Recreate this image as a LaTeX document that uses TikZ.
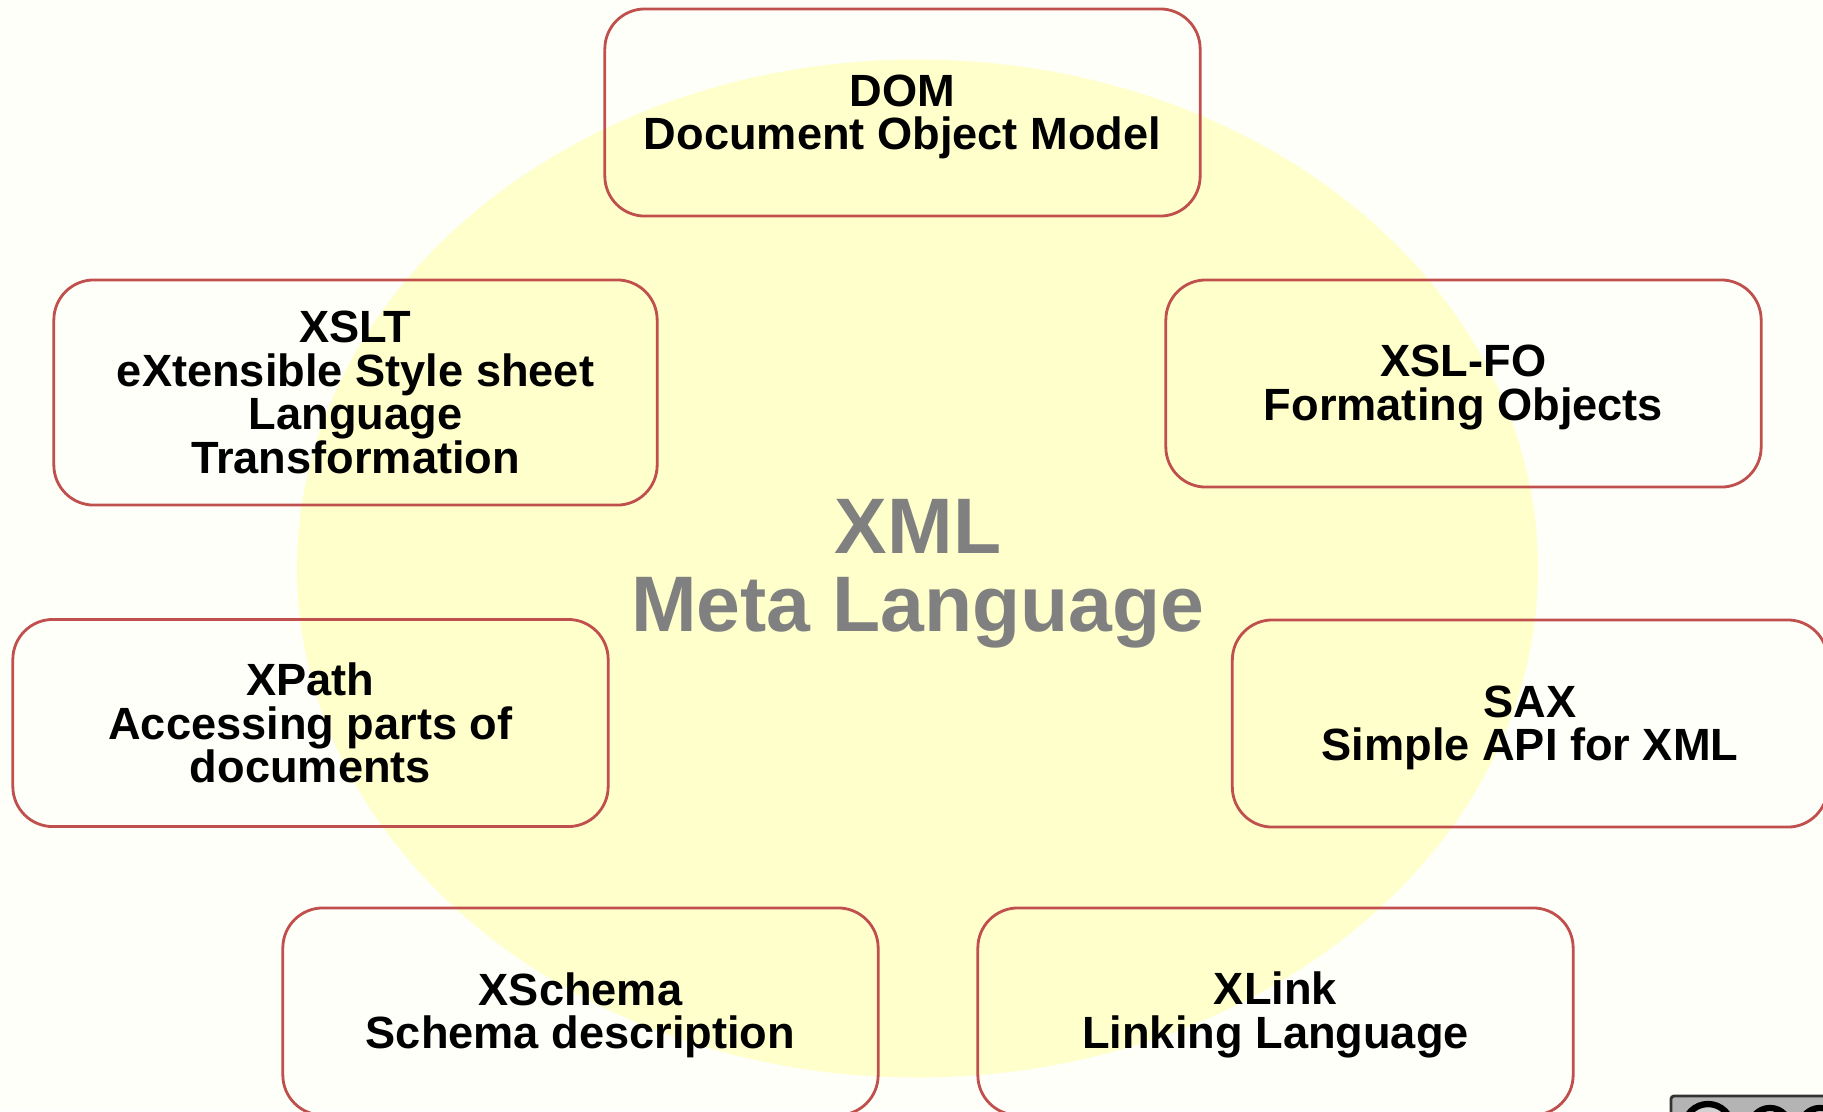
\documentclass[tikz,border=0pt]{standalone}
\usepackage{fontspec}
\setmainfont{Liberation Sans}
\definecolor{pagebg}{HTML}{FFFFFA}
\definecolor{discfill}{HTML}{FFFFCC}
\definecolor{boxline}{HTML}{C0504D}
\definecolor{titlegray}{HTML}{808080}
\definecolor{badgegray}{HTML}{B4B4B4}
\newcommand{\lowline}{\rule{0pt}{0.40cm}}
\tikzset{
  techbox/.style={draw=boxline,line width=0.8pt,rounded corners=0.4cm,align=center,
    minimum width=5.95cm,minimum height=2.07cm,inner sep=0pt,
    font=\fontsize{12.85}{12.4}\selectfont\bfseries},
  titletext/.style={align=center,text=titlegray,inner sep=0pt,
    font=\fontsize{22.4}{22.2}\selectfont\bfseries},
}
\begin{document}
\begin{tikzpicture}[x=0.01cm,y=-0.01cm]

\useasboundingbox (0,0) rectangle (1823,1111);
\clip (0,0) rectangle (1823,1111);
\fill[pagebg] (0,0) rectangle (1823,1111);

% -- disc
\fill[discfill] (917.5,568.5) ellipse (620.5 and 509);

% -- title
\node [titletext] (title) at (918,574) {XML\\Meta Language};

% -- top row
\node [techbox] (dom) at (902.5,112.5) {\lowline DOM\\Document Object Model};

% -- second row
\node [techbox,minimum width=6.03cm,minimum height=2.25cm] (xslt) at (355.5,392.5) {XSLT\\eXtensible Style sheet\\Language\\Transformation};
\node [techbox] (xslfo) at (1463.5,383.5) {\lowline XSL-FO\\Formating Objects};

% -- third row
\node [techbox] (xpath) at (310.5,723) {XPath\\Accessing parts of\\documents};
\node [techbox] (sax) at (1530,723.5) {\lowline SAX\\Simple API for XML};

% -- bottom row
\node [techbox] (xschema) at (580.5,1011.5) {\lowline XSchema\\Schema description};
\node [techbox] (xlink) at (1275.5,1011.5) {\lowline XLink\\Linking Language};

% -- badge
\draw[black!80,fill=badgegray,line width=0.8pt,rounded corners=0.03cm] (1671,1096) rectangle (1840,1150);
\draw[black,fill=badgegray!60,line width=1.8pt] (1708,1128) circle (24);
\draw[black,fill=white,line width=1.8pt] (1770,1128) circle (20);
\draw[black,fill=white,line width=1.8pt] (1820,1128) circle (20);
\end{tikzpicture}
\end{document}
